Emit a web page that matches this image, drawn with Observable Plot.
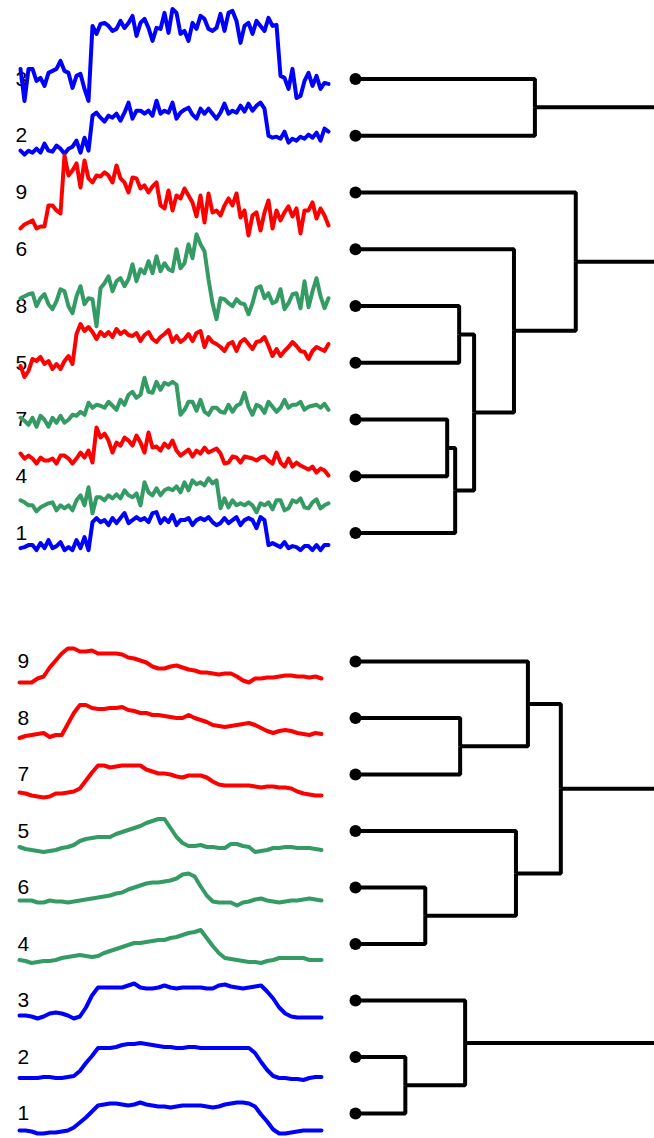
<!DOCTYPE html>
<html><head><meta charset="utf-8">
<script src="https://cdn.jsdelivr.net/npm/d3@7"></script>
<script src="https://cdn.jsdelivr.net/npm/@observablehq/plot@0.6"></script>
<style>
html,body{margin:0;padding:0;background:#fff;overflow:hidden;}
#chart{position:relative;width:654px;height:1138px;background:#fff;}
</style></head><body><div id="chart"></div>
<script>
// ---------- data: top panel (noisy series), leaf order of the dendrogram ----------
const topLeaves = ["3","2","9","6","8","5","7","4","1"];
const top3 = [10,-22,10,10,-2,1,-7,6,8,10,18,8,6,-9,3,5,-10,-22,53,45,55,56,53,48,50,58,51,56,63,43,56,60,51,38,51,50,66,46,70,66,45,48,38,56,50,63,60,50,48,51,65,48,66,68,58,36,53,56,45,58,53,48,61,53,54,3,1,-10,10,-19,-17,-2,6,-7,3,-10,-4,-5];
const top2 = [-15,-19,-15,-17,-13,-17,-8,-15,-16,-10,-13,-18,-13,-11,-5,-17,-2,-15,20,23,18,14,20,18,22,15,23,33,17,25,25,22,25,20,35,22,25,23,33,17,23,26,28,21,17,27,22,27,22,17,23,32,22,25,23,30,24,32,25,30,33,27,0,-2,-1,-3,4,-7,-3,-5,-1,-3,1,-2,3,-5,7,4];
const top9 = [-36,-32,-30,-28,-36,-34,-34,-13,-13,-18,-21,37,17,22,29,5,32,14,10,17,16,20,17,10,27,14,10,0,15,14,4,7,0,6,10,-13,-16,2,-18,-3,-6,4,-3,-10,-24,-3,-30,-1,-20,-18,-23,-13,-6,-13,-1,-25,-18,-43,-23,-20,-38,-20,-8,-36,-18,-28,-20,-14,-24,-16,-41,-18,-18,-10,-26,-16,-23,-33];
const top6 = [-49,-47,-45,-44,-57,-49,-45,-55,-60,-52,-40,-42,-57,-64,-47,-37,-55,-49,-50,-77,-39,-34,-27,-42,-32,-29,-37,-30,-15,-32,-20,-24,-12,-24,-7,-22,-14,-20,-22,0,-19,-14,5,-9,15,5,-2,-30,-54,-70,-49,-50,-54,-57,-50,-54,-55,-65,-54,-39,-37,-49,-44,-54,-52,-40,-60,-54,-45,-44,-59,-32,-58,-42,-29,-47,-59,-49];
const top8 = [-60,-71,-65,-53,-55,-51,-58,-55,-63,-58,-63,-55,-50,-58,-28,-18,-25,-21,-26,-33,-26,-30,-26,-31,-23,-28,-25,-29,-30,-27,-35,-29,-26,-33,-36,-31,-28,-24,-36,-30,-36,-33,-28,-35,-27,-25,-41,-31,-36,-38,-41,-45,-38,-36,-45,-36,-33,-38,-43,-36,-35,-31,-40,-50,-43,-50,-45,-41,-36,-40,-45,-46,-53,-45,-41,-43,-45,-38];
const top5 = [-55,-58,-62,-55,-64,-53,-57,-64,-55,-60,-53,-60,-57,-52,-53,-49,-52,-40,-45,-42,-43,-45,-39,-43,-47,-37,-42,-32,-29,-35,-32,-15,-29,-30,-19,-27,-20,-22,-19,-22,-52,-47,-39,-39,-48,-37,-49,-52,-45,-45,-49,-50,-42,-49,-43,-41,-30,-44,-52,-42,-44,-50,-39,-44,-49,-45,-37,-45,-42,-42,-39,-47,-44,-43,-42,-45,-41,-47];
const top7 = [-34,-39,-36,-39,-44,-38,-41,-41,-39,-44,-36,-36,-39,-44,-39,-33,-38,-31,-43,-8,-18,-14,-21,-33,-23,-26,-18,-21,-26,-16,-23,-33,-13,-28,-27,-31,-24,-28,-21,-31,-36,-33,-30,-37,-31,-34,-28,-33,-31,-29,-34,-44,-43,-37,-38,-43,-37,-38,-39,-41,-38,-37,-41,-44,-33,-43,-47,-39,-47,-43,-46,-48,-50,-47,-53,-49,-51,-56];
const top4 = [-24,-26,-29,-29,-35,-31,-29,-27,-26,-34,-29,-32,-29,-34,-24,-19,-29,-11,-37,-21,-21,-24,-19,-22,-18,-22,-14,-19,-21,-17,-29,-6,-16,-19,-12,-19,-14,-12,-14,-10,-16,-6,-14,-4,-8,-6,-9,-2,-7,-4,-32,-22,-31,-24,-29,-27,-29,-26,-29,-36,-27,-29,-26,-33,-24,-24,-34,-32,-24,-26,-22,-31,-32,-26,-23,-32,-29,-27];
const top1 = [-15,-14,-12,-12,-17,-10,-15,-7,-15,-13,-9,-17,-14,-17,-7,-15,-4,-17,11,15,11,13,8,15,10,15,20,10,13,16,13,15,11,20,21,10,15,11,18,8,13,13,15,8,13,15,13,16,11,8,10,15,10,13,16,8,13,15,13,5,16,13,-12,-10,-12,-14,-9,-15,-13,-14,-17,-13,-13,-17,-12,-17,-12,-12];
// merges: [node id, child a, child b, merge height]
const topMerges = [
  ["a","8","5",1.04],
  ["b","7","4",0.92],
  ["c","b","1",1.00],
  ["d","a","c",1.19],
  ["e","6","d",1.59],
  ["f","9","e",2.21],
  ["g","3","2",1.80],
  ["root","g","f",3.6]
];

// ---------- data: bottom panel (smoothed series) ----------
const botLeaves = ["9","8","7","5","6","4","3","2","1"];
const bot9 = [-21,-21,-21,-17,-15,-6,1,8,13,13,10,10,11,8,8,8,8,7,4,3,1,-1,-5,-7,-7,-5,-4,-6,-8,-9,-11,-11,-12,-13,-12,-12,-15,-19,-21,-17,-17,-16,-16,-15,-14,-14,-15,-15,-16,-15,-17];
const bot8 = [-20,-18,-17,-16,-15,-19,-17,-17,-6,5,13,13,10,9,9,10,10,11,8,7,5,5,3,3,2,1,0,0,3,0,-2,-4,-7,-8,-9,-8,-7,-6,-5,-7,-10,-13,-15,-13,-12,-13,-15,-16,-17,-15,-16];
const bot7 = [-18,-19,-21,-22,-23,-22,-19,-19,-18,-17,-14,-6,2,9,9,7,8,9,9,9,9,5,3,1,1,0,-2,-3,-1,-1,-1,-3,-7,-10,-11,-11,-11,-11,-11,-12,-13,-12,-12,-13,-13,-14,-17,-19,-20,-21,-21];
const bot5 = [-16,-18,-19,-20,-21,-20,-19,-17,-16,-14,-10,-8,-7,-6,-6,-6,-3,-1,1,3,5,8,10,12,12,3,-6,-12,-15,-15,-14,-16,-16,-17,-17,-13,-13,-15,-16,-21,-20,-19,-17,-17,-16,-16,-17,-17,-17,-18,-19];
const bot6 = [-13,-13,-13,-15,-15,-13,-14,-14,-15,-14,-13,-12,-11,-10,-9,-8,-6,-5,-2,0,2,4,5,5,6,7,9,13,14,11,1,-8,-14,-15,-15,-15,-18,-15,-14,-12,-11,-13,-14,-15,-14,-13,-13,-12,-11,-12,-13];
const bot4 = [-16,-17,-19,-18,-17,-17,-16,-14,-13,-12,-11,-12,-13,-12,-9,-7,-5,-3,-1,1,1,2,3,4,4,6,7,9,11,12,14,6,-2,-9,-14,-15,-16,-17,-18,-18,-19,-17,-16,-14,-14,-14,-14,-14,-16,-16,-16];
const bot3 = [-15,-15,-16,-18,-16,-13,-12,-13,-15,-18,-16,-7,5,13,13,13,13,13,15,17,13,12,12,13,15,13,12,13,13,13,13,12,12,15,16,14,13,12,13,14,15,9,2,-7,-13,-16,-17,-17,-17,-17,-17];
const bot2 = [-21,-21,-21,-21,-20,-20,-21,-21,-20,-19,-14,-6,1,9,9,9,10,12,13,13,14,13,12,11,10,10,9,9,10,10,9,9,9,9,9,9,9,9,9,4,-5,-13,-19,-21,-21,-22,-22,-23,-21,-20,-20];
const bot1 = [-17,-17,-18,-20,-20,-19,-19,-18,-17,-14,-9,-4,2,8,9,10,10,9,8,9,11,9,8,7,7,6,7,8,8,8,8,7,6,7,9,10,11,11,10,7,-1,-8,-16,-20,-20,-19,-18,-17,-17,-17,-17];
const botMerges = [
  ["a","8","7",1.05],
  ["b","9","a",1.73],
  ["c","6","4",0.70],
  ["d","5","c",1.61],
  ["e","b","d",2.06],
  ["f","2","1",0.50],
  ["g","3","f",1.10],
  ["root","e","g",3.6]
];

// cluster groups and colours
const groups = ["1-3","4-6","7-9"];
const groupColors = ["#0000ff","#359b64","#ff0000"];
const groupOf = (label) => groups[Math.floor((+label - 1) / 3)];

const FONT = "'Liberation Sans', Arial, Helvetica, sans-serif";
const chart = document.getElementById("chart");

function place(el, left, top) {
  el.style.position = "absolute";
  el.style.left = left + "px";
  el.style.top = top + "px";
  el.style.maxWidth = "none";
  chart.appendChild(el);
}

function seriesPlot(rows, o) {
  const data = rows.flatMap(([label, values], i) =>
    values.map((v, k) => ({label, group: groupOf(label), t: k / (values.length - 1), y: i * o.step - v})));
  return Plot.plot({
    width: 340, height: o.height, margin: 0,
    style: {fontFamily: FONT, background: "transparent"},
    x: {domain: [0, 1], range: o.xRange, axis: null},
    y: {domain: [0, 8 * o.step], range: o.yRange, axis: null},
    color: {domain: groups, range: groupColors},
    marks: [
      Plot.text(rows, {x: 0, y: (d, i) => i * o.step, text: d => d[0], dx: o.dx,
        textAnchor: "start", fontSize: 21, fill: "black"}),
      Plot.line(data, {x: "t", y: "y", z: "label", stroke: "group", strokeWidth: 4,
        strokeLinejoin: "round", strokeLinecap: "round"})
    ]
  });
}

function dendroPlot(leaves, merges, o) {
  const nodes = new Map(leaves.map((l, i) => [l, {h: 0, y: i}]));
  const paths = [];
  for (const [id, a, b, h] of merges) {
    const na = nodes.get(a), nb = nodes.get(b);
    const y = (na.y + nb.y) / 2;
    nodes.set(id, {h, y});
    for (const [c, n] of [[a, na], [b, nb]]) {
      paths.push({id: c, h: n.h, y: n.y}, {id: c, h, y: n.y}, {id: c, h, y});
    }
  }
  return Plot.plot({
    width: 314, height: o.height,
    marginLeft: 15, marginRight: 0, marginTop: 0, marginBottom: 0,
    style: {background: "transparent"},
    x: {domain: [0, 3], axis: null},
    y: {domain: [0, 8], range: o.yRange, axis: null},
    marks: [
      Plot.line(paths, {x: "h", y: "y", z: "id", stroke: "black", strokeWidth: 4,
        strokeLinejoin: "miter", strokeLinecap: "butt", clip: true}),
      Plot.dot(leaves, {x: 0, y: (d, i) => i, r: 6, fill: "black", stroke: "none"})
    ]
  });
}

const topRows = [["3",top3],["2",top2],["9",top9],["6",top6],["8",top8],["5",top5],["7",top7],["4",top4],["1",top1]];
const botRows = [["9",bot9],["8",bot8],["7",bot7],["5",bot5],["6",bot6],["4",bot4],["3",bot3],["2",bot2],["1",bot1]];

const topY = [78.4, 532.6];
const botY = [91, 543];

place(seriesPlot(topRows, {height: 570, step: 56.78, xRange: [20, 328], yRange: topY, dx: -5}), 0, 0);
place(dendroPlot(topLeaves, topMerges, {height: 570, yRange: topY}), 340, 0);
place(seriesPlot(botRows, {height: 568, step: 56.5, xRange: [19, 321], yRange: botY, dx: -2}), 0, 570);
place(dendroPlot(botLeaves, botMerges, {height: 568, yRange: botY}), 340, 570);
</script></body></html>
